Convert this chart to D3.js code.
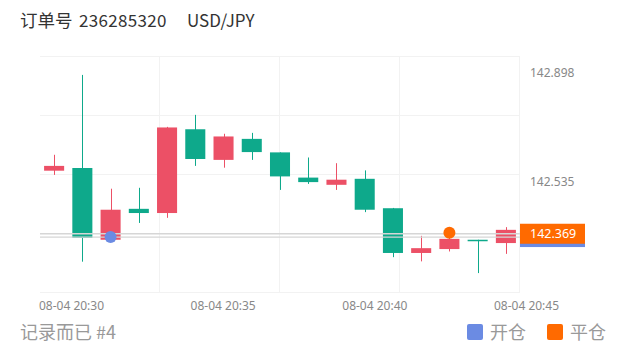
<!DOCTYPE html>
<html>
<head>
<meta charset="utf-8">
<script src="https://cdn.jsdelivr.net/npm/d3@7"></script>
<style>
  body { margin: 0; background: #fff; }
  svg { display: block; font-family: "Noto Sans CJK SC", "Noto Sans", sans-serif; }
</style>
</head>
<body>
<div id="chart"></div>
<script>
// 1 minute candles, 20:29 -> 20:45
const times = ["20:29", "20:30", "20:31", "20:32", "20:33", "20:34", "20:35", "20:36", "20:37",
               "20:38", "20:39", "20:40", "20:41", "20:42", "20:43", "20:44", "20:45"];
const open  = [142.579, 142.588, 142.349, 142.452, 142.438, 142.717, 142.615, 142.685, 142.640,
               142.556, 142.532, 142.552, 142.454, 142.305, 142.318, 142.349, 142.338];
const close = [142.595, 142.355, 142.449, 142.438, 142.723, 142.618, 142.693, 142.641, 142.560,
               142.541, 142.549, 142.449, 142.305, 142.321, 142.352, 142.345, 142.382];
const high  = [142.632, 142.898, 142.519, 142.522, 142.725, 142.765, 142.702, 142.705, 142.640,
               142.623, 142.604, 142.580, 142.455, 142.362, 142.362, 142.349, 142.391];
const low   = [142.565, 142.276, 142.346, 142.405, 142.422, 142.595, 142.589, 142.615, 142.515,
               142.535, 142.515, 142.441, 142.291, 142.277, 142.310, 142.238, 142.302];

const yTicks = [142.898, 142.535];
const xTicks = ["20:30", "20:35", "20:40", "20:45"];
const yDomain = [142.175, 142.961];

// trades
const openTrade = { time: "20:31", price: 142.358 };
const closeTrade = { time: "20:43", price: 142.369 };

const data = times.map((t, i) => ({ t, o: open[i], c: close[i], h: high[i], l: low[i] }));

const W = 620, H = 352;
const pLeft = 40, pRight = 520, pTop = 56, pBottom = 292;
const up = "#ec5066", down = "#0ea98b";

const svg = d3.select("#chart").append("svg").attr("width", W).attr("height", H);

const x = d3.scaleBand().domain(times).range([pLeft, pRight]).paddingInner(0.29).paddingOuter(0.145);
const y = d3.scaleLinear().domain(yDomain).range([pBottom, pTop]);

const parse = d3.timeParse("%H:%M");
// the time labels are spread a bit wider than the candles
const xt = d3.scaleTime().domain([parse("20:30"), parse("20:45")]).range([71, 526]);

// grid
const grid = svg.append("g").attr("stroke", "#f2f2f2").attr("stroke-width", 1);
d3.range(5).forEach(i => {
  const gy = Math.round(pTop + i * (pBottom - pTop) / 4) + 0.5;
  grid.append("line").attr("x1", pLeft).attr("x2", pRight).attr("y1", gy).attr("y2", gy);
});
d3.range(1, 5).forEach(i => {
  const gx = Math.round(pLeft + i * (pRight - pLeft) / 4) - 0.5;
  grid.append("line").attr("x1", gx).attr("x2", gx).attr("y1", pTop).attr("y2", pBottom);
});

// candles
const cg = svg.append("g");
const c = cg.selectAll("g").data(data).enter().append("g");
c.append("line")
  .attr("x1", d => Math.round(x(d.t) + x.bandwidth() / 2) + 0.5)
  .attr("x2", d => Math.round(x(d.t) + x.bandwidth() / 2) + 0.5)
  .attr("y1", d => y(d.h)).attr("y2", d => y(d.l))
  .attr("stroke", d => d.c >= d.o ? up : down).attr("stroke-width", 1);
c.append("rect")
  .attr("x", d => x(d.t))
  .attr("width", x.bandwidth())
  .attr("y", d => y(Math.max(d.o, d.c)))
  .attr("height", d => Math.max(1.5, Math.abs(y(d.o) - y(d.c))))
  .attr("fill", d => d.c >= d.o ? up : down);

// trade price lines
[openTrade, closeTrade].forEach(tr => {
  svg.append("line")
    .attr("x1", pLeft).attr("x2", pRight)
    .attr("y1", y(tr.price)).attr("y2", y(tr.price))
    .attr("stroke", "#d6d6d6").attr("stroke-width", 1.3);
});

// trade markers
svg.append("circle")
  .attr("cx", x(openTrade.time) + x.bandwidth() / 2).attr("cy", y(openTrade.price))
  .attr("r", 6).attr("fill", "#6b8be3");
svg.append("circle")
  .attr("cx", x(closeTrade.time) + x.bandwidth() / 2).attr("cy", y(closeTrade.price) - 1)
  .attr("r", 6).attr("fill", "#ff6a00");

// y axis
const ya = svg.append("g").attr("transform", `translate(${pRight},0)`)
  .call(d3.axisRight(y).tickValues(yTicks).tickSize(0).tickPadding(10).tickFormat(d3.format(".3f")));
ya.select(".domain").remove();
ya.selectAll("text").attr("fill", "#888").attr("font-size", 12).attr("dy", "0.12em")
  .attr("font-family", "'Noto Sans', sans-serif");

// price labels
const lab = svg.append("g");
lab.append("rect").attr("x", pRight).attr("y", y(openTrade.price) - 10)
  .attr("width", 65).attr("height", 20).attr("fill", "#6b8be3");
lab.append("rect").attr("x", pRight).attr("y", y(closeTrade.price) - 10)
  .attr("width", 65).attr("height", 20).attr("fill", "#ff6a00");
lab.append("text").attr("x", pRight + 10).attr("y", y(closeTrade.price))
  .attr("dy", "0.35em").attr("fill", "#fff").attr("font-size", 12.5)
  .attr("font-family", "'Noto Sans', sans-serif")
  .text(d3.format(".3f")(closeTrade.price));

// x axis
const xa = svg.append("g").attr("transform", `translate(0,${pBottom})`)
  .call(d3.axisBottom(xt).tickValues(xTicks.map(parse)).tickSize(0).tickPadding(9)
    .tickFormat(d => "08-04 " + d3.timeFormat("%H:%M")(d)));
xa.select(".domain").remove();
xa.selectAll("text").attr("fill", "#888").attr("font-size", 12)
  .attr("font-family", "'Noto Sans', sans-serif");

// title
svg.append("text").attr("x", 20).attr("y", 27).attr("font-size", 17.5).attr("fill", "#333")
  .text("订单号");
svg.append("text").attr("x", 79).attr("y", 27).attr("font-size", 17).attr("fill", "#333")
  .attr("letter-spacing", 0.3).text("236285320");
svg.append("text").attr("x", 187).attr("y", 27).attr("font-size", 17).attr("fill", "#333")
  .text("USD/JPY");

// footer
svg.append("text").attr("x", 20).attr("y", 339).attr("font-size", 18).attr("fill", "#999")
  .text("记录而已 #4");

const legend = [{ name: "开仓", color: "#6b8be3", x: 467 }, { name: "平仓", color: "#ff6a00", x: 547 }];
legend.forEach(l => {
  svg.append("rect").attr("x", l.x).attr("y", 324).attr("width", 16).attr("height", 16)
    .attr("rx", 2).attr("fill", l.color);
  svg.append("text").attr("x", l.x + 23).attr("y", 339).attr("font-size", 18).attr("fill", "#999")
    .text(l.name);
});
</script>
</body>
</html>
